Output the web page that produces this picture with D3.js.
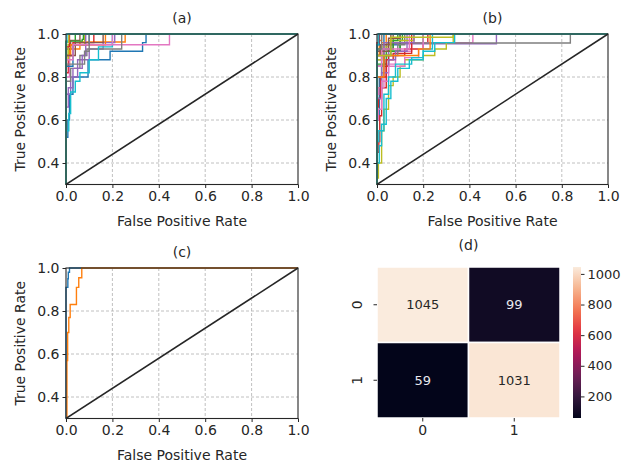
<!DOCTYPE html>
<html>
<head>
<meta charset="utf-8">
<script src="https://cdn.jsdelivr.net/npm/d3@7"></script>
<style>
  body { margin: 0; background: #fff; }
  text { font-family: "DejaVu Sans", sans-serif; fill: #262626; }
</style>
</head>
<body>
<svg id="fig" width="637" height="463"></svg>
<script>
// ROC curves: each point [fpr, tpr] = at this fpr the curve rises to tpr (stair form)
const rocA = [
  [[0,0],[0,0.52],[0.008,0.6],[0.015,0.72],[0.03,0.8],[0.095,0.88],[0.19,0.92],[0.33,0.96],[0.345,1],[1,1]],
  [[0,0],[0,0.85],[0.015,0.93],[0.06,0.963],[0.255,1],[1,1]],
  [[0,0],[0,0.9],[0.01,0.95],[0.04,1],[1,1]],
  [[0,0],[0,0.82],[0.01,0.9],[0.03,0.96],[0.12,1],[1,1]],
  [[0,0],[0,0.66],[0.01,0.72],[0.02,0.8],[0.05,0.88],[0.1,0.93],[0.16,0.96],[0.21,1],[1,1]],
  [[0,0],[0,0.93],[0.02,0.97],[0.06,1],[1,1]],
  [[0,0],[0,0.8],[0.015,0.9],[0.03,0.95],[0.446,1],[1,1]],
  [[0,0],[0,0.78],[0.02,0.84],[0.06,0.9],[0.09,0.93],[0.24,1],[1,1]],
  [[0,0],[0,0.88],[0.01,0.95],[0.08,1],[1,1]],
  [[0,0],[0,0.55],[0.012,0.63],[0.02,0.73],[0.04,0.78],[0.06,0.82],[0.1,0.88],[0.14,0.94],[0.2,1],[1,1]],
  [[0,0],[0,0.85],[0.03,0.95],[0.1,1],[1,1]],
  [[0,0],[0,0.9],[0.02,0.95],[0.17,1],[1,1]],
  [[0,0],[0,0.967],[0.07,0.975],[0.075,1],[1,1]],
  [[0,0],[0,0.94],[0.015,1],[1,1]],
  [[0,0],[0,0.72],[0.01,0.75],[0.03,0.84],[0.07,0.9],[0.085,1],[1,1]],
  [[0,0],[0,0.9],[0.04,0.96],[0.16,1],[1,1]],
  [[0,0],[0,0.88],[0.03,0.95],[0.2,1],[1,1]],
  [[0,0],[0,0.86],[0.08,0.92],[0.1,1],[1,1]],
  [[0,0],[0,0.96],[0.012,1],[1,1]],
  [[0,0],[0,0.96],[0.004,1],[1,1]]
];
const rocB = [
  [[0,0],[0,0.6],[0.01,0.8],[0.03,0.9],[0.06,0.95],[0.1,1],[1,1]],
  [[0,0],[0,0.9],[0.01,0.97],[0.02,1],[1,1]],
  [[0,0],[0,0.75],[0.02,0.85],[0.05,0.92],[0.1,0.96],[0.2,1],[1,1]],
  [[0,0],[0,0.45],[0.008,0.5],[0.012,0.62],[0.02,0.75],[0.04,0.85],[0.05,0.9],[0.12,0.93],[0.2,0.96],[0.22,1],[1,1]],
  [[0,0],[0,0.8],[0.02,0.9],[0.05,0.955],[0.517,1],[1,1]],
  [[0,0],[0,0.85],[0.03,0.93],[0.07,1],[1,1]],
  [[0,0],[0,0.72],[0.008,0.75],[0.03,0.86],[0.08,0.92],[0.15,0.96],[0.415,1],[1,1]],
  [[0,0],[0,0.88],[0.02,0.93],[0.04,0.958],[0.837,1],[1,1]],
  [[0,0],[0,0.33],[0.006,0.4],[0.02,0.55],[0.03,0.65],[0.05,0.76],[0.07,0.8],[0.1,0.85],[0.12,0.88],[0.2,0.9],[0.25,0.93],[0.3,0.96],[0.33,1],[1,1]],
  [[0,0],[0,0.4],[0.01,0.48],[0.02,0.58],[0.04,0.7],[0.06,0.78],[0.09,0.84],[0.14,0.88],[0.2,0.92],[0.25,0.96],[0.336,1],[1,1]],
  [[0,0],[0,0.92],[0.03,1],[1,1]],
  [[0,0],[0,0.9],[0.02,0.96],[0.04,1],[1,1]],
  [[0,0],[0,0.86],[0.04,0.92],[0.1,0.97],[0.11,1],[1,1]],
  [[0,0],[0,0.66],[0.006,0.7],[0.015,0.8],[0.04,0.88],[0.07,0.91],[0.15,1],[1,1]],
  [[0,0],[0,0.7],[0.02,0.82],[0.05,0.88],[0.08,0.92],[0.13,1],[1,1]],
  [[0,0],[0,0.9],[0.015,0.95],[0.06,1],[1,1]],
  [[0,0],[0,0.6],[0.006,0.65],[0.02,0.78],[0.05,0.85],[0.12,0.89],[0.18,0.93],[0.2,1],[1,1]],
  [[0,0],[0,0.85],[0.03,0.9],[0.09,0.95],[0.12,1],[1,1]],
  [[0,0],[0,0.88],[0.02,0.94],[0.05,0.97],[0.16,1],[1,1]],
  [[0,0],[0,0.5],[0.008,0.55],[0.03,0.72],[0.05,0.8],[0.08,0.86],[0.15,0.89],[0.2,0.93],[0.24,1],[1,1]],
  [[0,0],[0,0.95],[0.01,1],[1,1]],
  [[0,0],[0,0.8],[0.03,0.9],[0.18,0.93],[0.23,1],[1,1]],
  [[0,0],[0,0.93],[0.07,0.97],[0.09,1],[1,1]],
  [[0,0],[0,0.96],[0.008,1],[1,1]],
  [[0,0],[0,0.9],[0.03,0.96],[0.16,1],[1,1]],
  [[0,0],[0,0.92],[0.05,0.98],[0.1,1],[1,1]],
  [[0,0],[0,0.85],[0.02,0.93],[0.14,1],[1,1]],
  [[0,0],[0,0.93],[0.02,1],[1,1]],
  [[0,0],[0,0.9],[0.06,0.985],[0.33,1],[1,1]],
  [[0,0],[0,0.95],[0.005,1],[1,1]]
];
const rocC = [
  [[0,0],[0,0.91],[0.008,0.95],[0.01,0.98],[0.015,1],[1,1]],
  [[0,0],[0.004,0.57],[0.007,0.7],[0.012,0.77],[0.018,0.83],[0.045,0.91],[0.055,0.955],[0.068,1],[1,1]]
];
const xTicks = [0, 0.2, 0.4, 0.6, 0.8, 1.0];
const yTicks = [0.4, 0.6, 0.8, 1.0];
const tab10 = ['#1f77b4','#ff7f0e','#2ca02c','#d62728','#9467bd','#8c564b','#e377c2','#7f7f7f','#bcbd22','#17becf'];

const classes = ['0', '1'];
const confusion = [[1045, 99], [59, 1031]];
const cbTicks = [200, 400, 600, 800, 1000];

const svg = d3.select('#fig');

function rocPanel(curves, box, title, id) {
  const x = d3.scaleLinear().domain([0, 1]).range([box.x0, box.x1]);
  const y = d3.scaleLinear().domain([0.3, 1]).range([box.y1, box.y0]);
  const g = svg.append('g');

  g.append('clipPath').attr('id', 'clip' + id)
    .append('rect').attr('x', box.x0 - 1).attr('y', box.y0 - 2)
    .attr('width', box.x1 - box.x0 + 3).attr('height', box.y1 - box.y0 + 2);

  // grid
  g.append('g').selectAll('line').data(xTicks.slice(1, -1)).join('line')
    .attr('x1', d => x(d)).attr('x2', d => x(d)).attr('y1', box.y0).attr('y2', box.y1)
    .attr('stroke', '#b0b0b0').attr('stroke-width', 0.8).attr('stroke-dasharray', '3,2');
  g.append('g').selectAll('line').data(yTicks.slice(0, -1)).join('line')
    .attr('y1', d => y(d)).attr('y2', d => y(d)).attr('x1', box.x0).attr('x2', box.x1)
    .attr('stroke', '#b0b0b0').attr('stroke-width', 0.8).attr('stroke-dasharray', '3,2');

  const line = d3.line().x(d => x(d[0])).y(d => y(d[1])).curve(d3.curveStepAfter);
  const cg = g.append('g').attr('clip-path', `url(#clip${id})`);
  cg.selectAll('path.roc').data(curves).join('path')
    .attr('class', 'roc')
    .attr('d', line)
    .attr('fill', 'none')
    .attr('stroke', (d, i) => tab10[i % 10])
    .attr('stroke-width', 1.4);
  cg.append('line')
    .attr('x1', x(0)).attr('y1', y(0.3)).attr('x2', x(1)).attr('y2', y(1))
    .attr('stroke', '#262626').attr('stroke-width', 1.5);

  // axes
  const ax = d3.axisBottom(x).tickValues(xTicks).tickFormat(d3.format('.1f')).tickSize(3.5).tickPadding(3);
  const ay = d3.axisLeft(y).tickValues(yTicks).tickFormat(d3.format('.1f')).tickSize(3.5).tickPadding(3);
  g.append('g').attr('transform', `translate(0,${box.y1})`).call(ax);
  g.append('g').attr('transform', `translate(${box.x0},0)`).call(ay);
  g.selectAll('.domain').remove();
  g.selectAll('.tick line').attr('stroke', '#262626');
  g.selectAll('.tick text').attr('font-size', 14).attr('fill', '#262626');

  g.append('rect').attr('x', box.x0).attr('y', box.y0)
    .attr('width', box.x1 - box.x0).attr('height', box.y1 - box.y0)
    .attr('fill', 'none').attr('stroke', '#262626').attr('stroke-width', 1.1);

  g.append('text').attr('x', (box.x0 + box.x1) / 2).attr('y', box.y0 - 11)
    .attr('text-anchor', 'middle').attr('font-size', 14).text(title);
  g.append('text').attr('x', (box.x0 + box.x1) / 2).attr('y', box.y1 + 41)
    .attr('text-anchor', 'middle').attr('font-size', 14).text('False Positive Rate');
  g.append('text')
    .attr('transform', `translate(${box.x0 - 41},${(box.y0 + box.y1) / 2}) rotate(-90)`)
    .attr('text-anchor', 'middle').attr('font-size', 14).text('True Positive Rate');
}

rocPanel(rocA, {x0: 66, x1: 298, y0: 34, y1: 184.5}, '(a)', 'a');
rocPanel(rocB, {x0: 377, x1: 608, y0: 34, y1: 184.5}, '(b)', 'b');
rocPanel(rocC, {x0: 66, x1: 298, y0: 268, y1: 418.5}, '(c)', 'c');

// (d) confusion matrix heatmap, seaborn "rocket" colormap
const rocketStops = ['#03051a', '#35193e', '#701f57', '#ad1759', '#e13342', '#f37651', '#f6b48f', '#faebdd'];
const rocket = d3.scaleLinear()
  .domain(rocketStops.map((c, i) => i / (rocketStops.length - 1)))
  .range(rocketStops).interpolate(d3.interpolateRgb);
const flat = confusion.flat();
const vmin = d3.min(flat), vmax = d3.max(flat);
const color = v => rocket((v - vmin) / (vmax - vmin));

const hd = {x0: 377, x1: 560, y0: 267, y1: 418};
const hx = d3.scaleBand().domain(classes).range([hd.x0, hd.x1]);
const hy = d3.scaleBand().domain(classes).range([hd.y0, hd.y1]);
const hg = svg.append('g');
const cells = [];
confusion.forEach((row, i) => row.forEach((v, j) => cells.push({r: classes[i], c: classes[j], v})));
hg.selectAll('rect').data(cells).join('rect')
  .attr('x', d => hx(d.c)).attr('y', d => hy(d.r))
  .attr('width', hx.bandwidth()).attr('height', hy.bandwidth())
  .attr('fill', d => color(d.v)).attr('stroke', '#fff').attr('stroke-width', 1.5);
hg.selectAll('text.ann').data(cells).join('text')
  .attr('class', 'ann')
  .attr('x', d => hx(d.c) + hx.bandwidth() / 2).attr('y', d => hy(d.r) + hy.bandwidth() / 2)
  .attr('dy', '0.35em').attr('text-anchor', 'middle').attr('font-size', 13)
  .style('fill', d => (d.v - vmin) / (vmax - vmin) > 0.5 ? '#262626' : '#e8e8ee')
  .text(d => d.v);

const hax = d3.axisBottom(hx).tickSize(3.5).tickPadding(4);
const hay = d3.axisLeft(hy).tickSize(3.5).tickPadding(3);
hg.append('g').attr('transform', `translate(0,${hd.y1})`).call(hax);
const yAxG = hg.append('g').attr('transform', `translate(${hd.x0},0)`).call(hay);
hg.selectAll('.domain').remove();
hg.selectAll('.tick line').attr('stroke', '#262626');
hg.selectAll('.tick text').attr('font-size', 14).attr('fill', '#262626');
yAxG.selectAll('.tick text')
  .attr('text-anchor', 'middle').attr('x', null)
  .attr('transform', 'translate(-20,0) rotate(-90)').attr('dy', '0.35em');
hg.append('text').attr('x', (hd.x0 + hd.x1) / 2).attr('y', hd.y0 - 17)
  .attr('text-anchor', 'middle').attr('font-size', 14).text('(d)');

// colorbar
const cb = {x0: 573, x1: 581, y0: 267, y1: 418};
const cy = d3.scaleLinear().domain([vmin, vmax]).range([cb.y1, cb.y0]);
const grad = svg.append('defs').append('linearGradient').attr('id', 'cbgrad')
  .attr('x1', 0).attr('y1', 1).attr('x2', 0).attr('y2', 0);
d3.range(0, 1.0001, 0.05).forEach(t => grad.append('stop')
  .attr('offset', t).attr('stop-color', rocket(t)));
svg.append('rect').attr('x', cb.x0).attr('y', cb.y0)
  .attr('width', cb.x1 - cb.x0).attr('height', cb.y1 - cb.y0).attr('fill', 'url(#cbgrad)');
const cbG = svg.append('g').attr('transform', `translate(${cb.x1},0)`)
  .call(d3.axisRight(cy).tickValues(cbTicks).tickFormat(d3.format('d')).tickSize(3.5).tickPadding(3));
cbG.select('.domain').remove();
cbG.selectAll('.tick line').attr('stroke', '#262626');
cbG.selectAll('.tick text').attr('font-size', 13).attr('fill', '#262626');
</script>
</body>
</html>
